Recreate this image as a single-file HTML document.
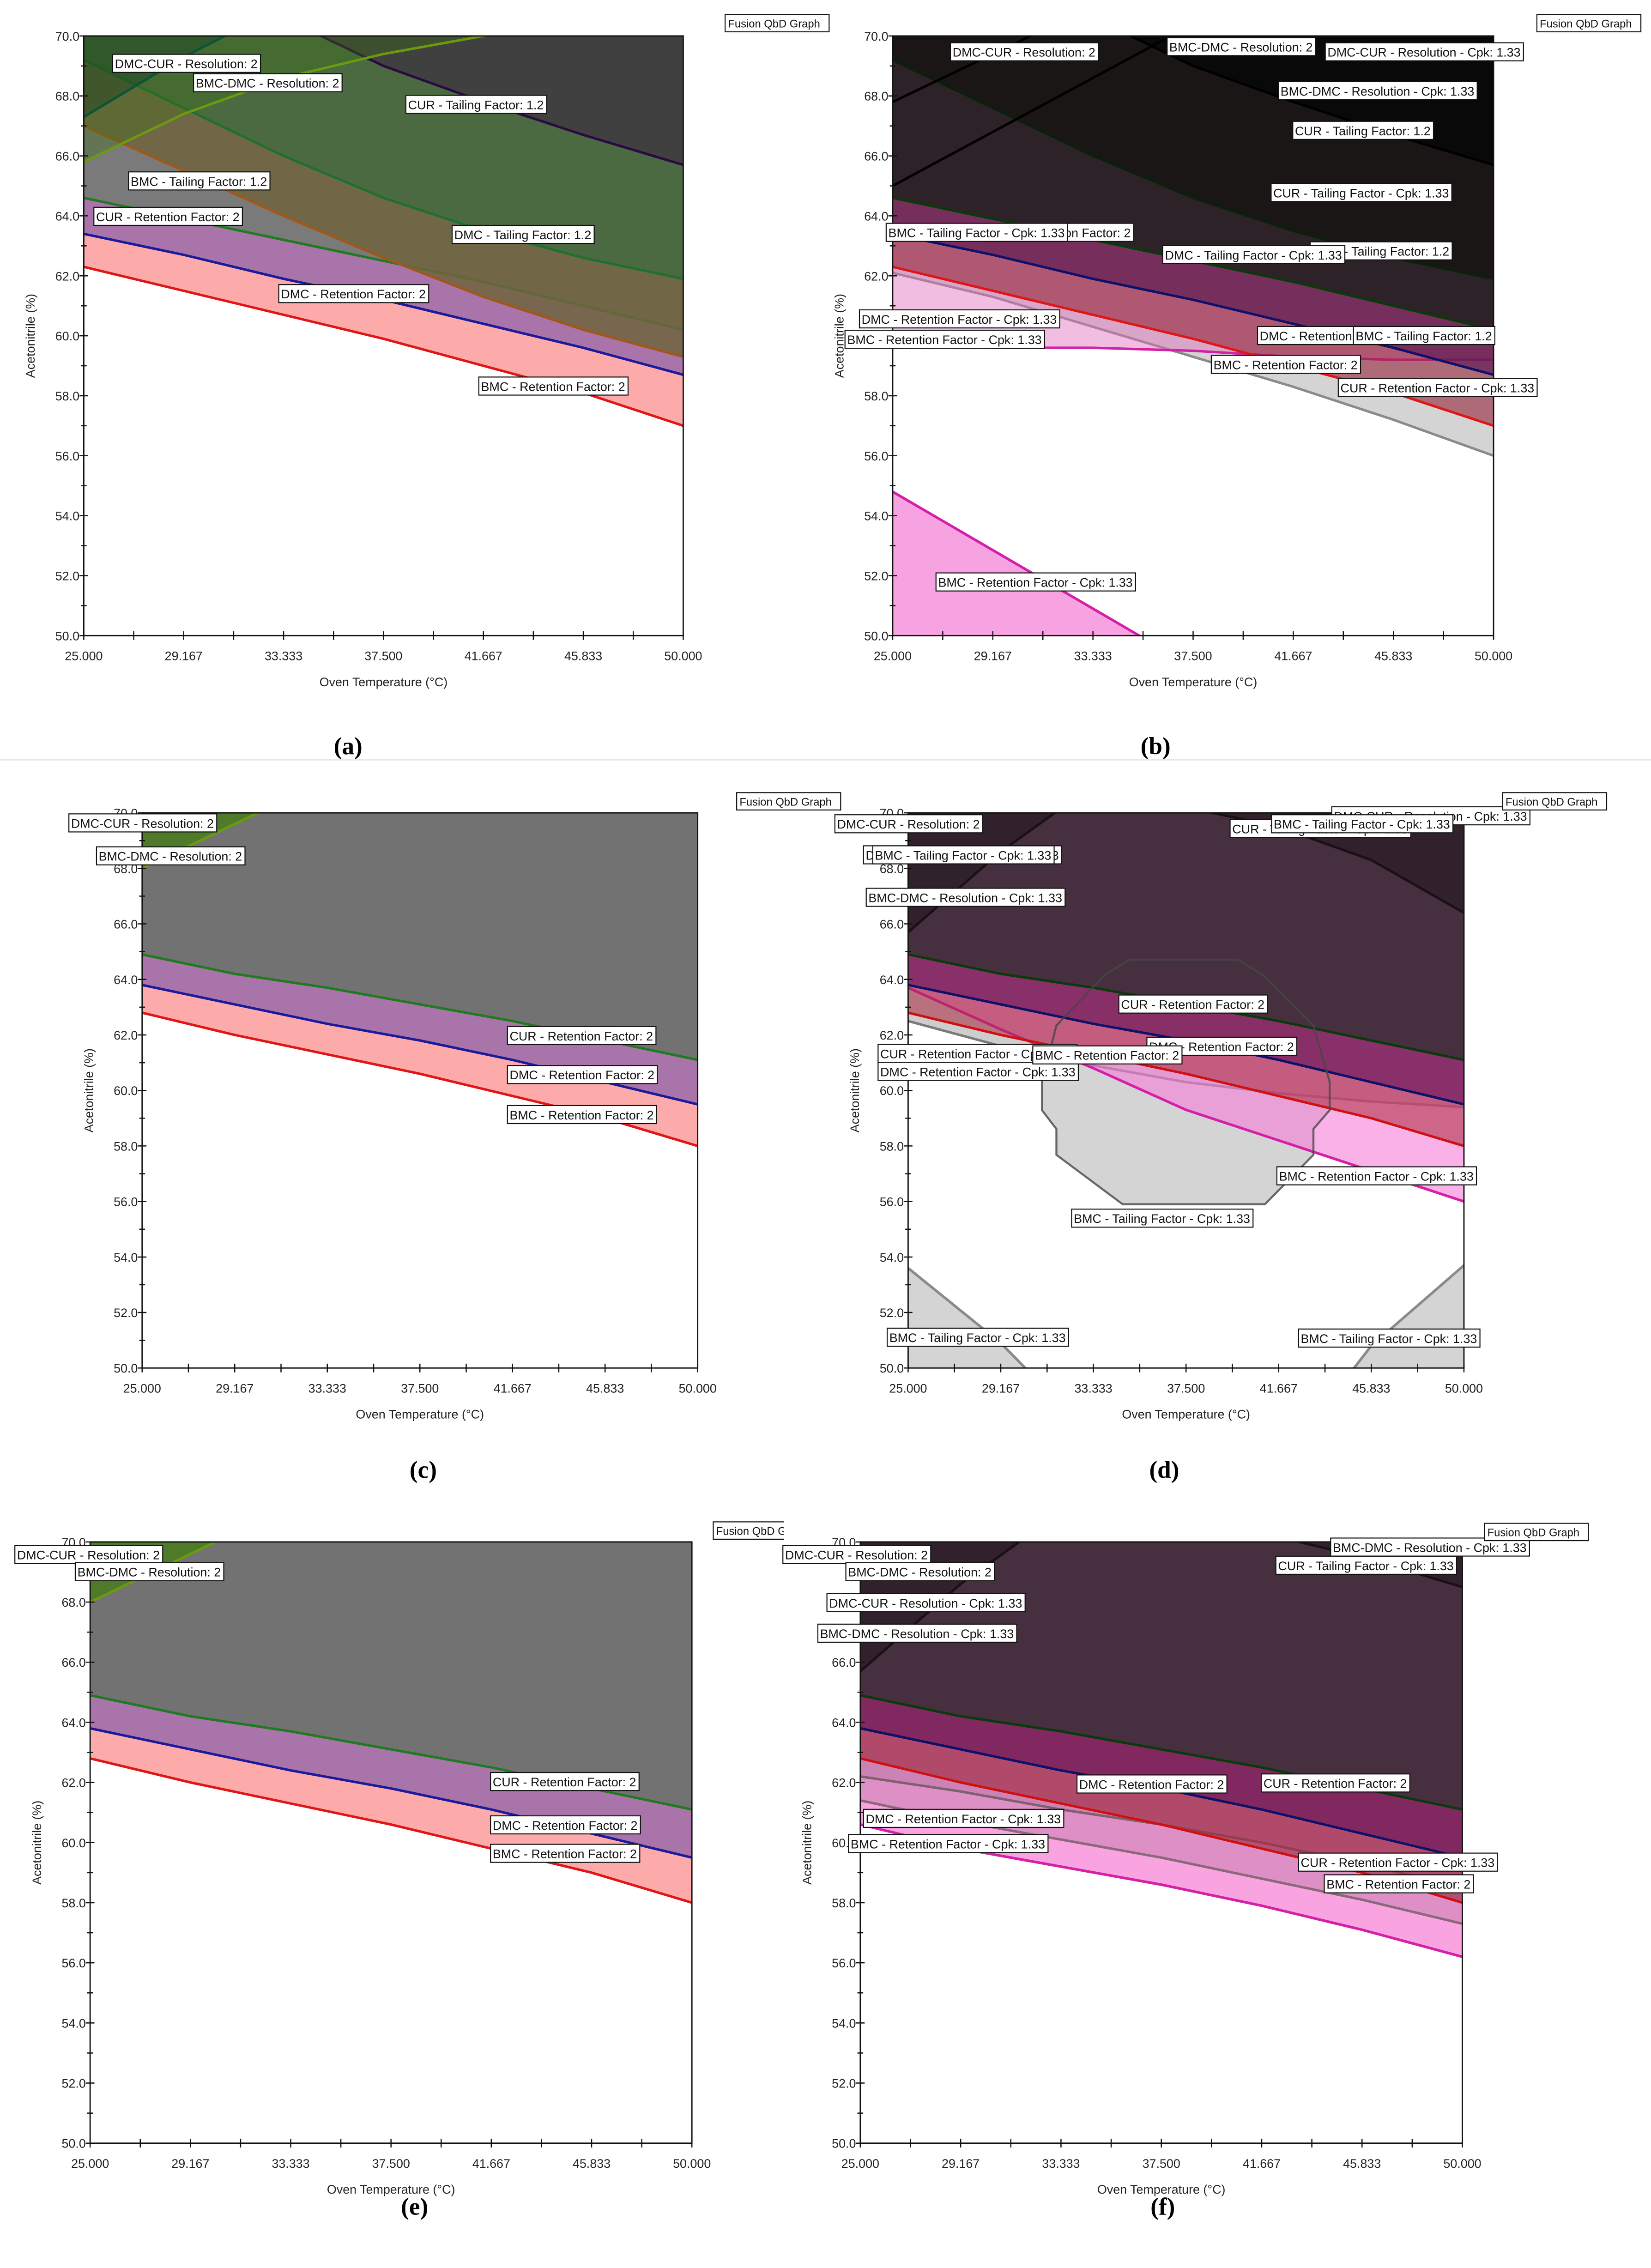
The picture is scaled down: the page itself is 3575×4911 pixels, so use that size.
<!DOCTYPE html>
<html><head><meta charset="utf-8">
<style>
html,body{margin:0;padding:0;background:#fff;}
svg{display:block;}
text{font-family:"Liberation Sans",sans-serif;}
</style></head>
<body>
<svg id="fig" xmlns="http://www.w3.org/2000/svg" width="3575" height="4911" viewBox="0 0 1143 1570" preserveAspectRatio="none">
<rect x="0" y="0" width="1143" height="1570" fill="#fff"/>
<line x1="0" y1="526" x2="1143" y2="526" stroke="#e4e4e4" stroke-width="0.8"/>
</svg>
<script>
const xTicks=[25,29.167,33.333,37.5,41.667,45.833,50];
const xTickLabels=["25.000","29.167","33.333","37.500","41.667","45.833","50.000"];
const yTicks=[50,52,54,56,58,60,62,64,66,68,70];
const yTickLabels=["50.0","52.0","54.0","56.0","58.0","60.0","62.0","64.0","66.0","68.0","70.0"];

/* panel (a) */
const aBmcRet=[62.3,61.5,60.7,59.9,59.0,58.1,57.0];
const aDmcRet=[63.4,62.7,61.9,61.2,60.4,59.6,58.7];
const aCurRet=[64.6,63.9,63.2,62.5,61.8,61.0,60.2];
const aBmcTail=[67.0,65.5,64.0,62.6,61.3,60.2,59.3];
const aDmcTail=[69.2,67.6,66.0,64.6,63.5,62.6,61.9];
const aCurTail=[74.0,72.3,70.6,69.0,67.8,66.7,65.7];
const aDmcCurRes=[67.3,69.3,71.0,72.5,74,75,76];
const aBmcDmcRes=[65.8,67.4,68.6,69.4,70.0,70.6,71.2];
/* panel (b) */
const bBmcCpkLow=[54.8,52.85,50.9,48.95,47.0,45.0,43.1];
const bGray=[62.1,61.3,60.3,59.3,58.3,57.2,56.0];
const bMag=[59.7,59.6,59.6,59.5,59.3,59.2,59.2];
const bRed=[62.3,61.5,60.7,59.9,59.0,58.1,57.0];
const bBlue=[63.4,62.7,61.9,61.2,60.4,59.6,58.7];
const bGreen=[64.6,63.9,63.2,62.5,61.8,61.0,60.2];
const bDmcTail=[69.2,67.6,66.0,64.6,63.5,62.6,61.9];
const bCurTail=[74.0,72.3,70.6,69.0,67.8,66.7,65.7];
const bResA=[65.0,66.8,68.6,70.4,72,74,76];
const bResB=[67.8,69.4,71.0,72.5,74,75,76];
/* panel (c) */
const cCurRet=[64.9,64.2,63.7,63.1,62.5,61.8,61.1];
const cDmcRet=[63.8,63.1,62.4,61.8,61.1,60.3,59.5];
const cBmcRet=[62.8,62.0,61.3,60.6,59.8,59.0,58.0];
const cRes=[68.0,69.6,71.2,72.8,74,75,76];
/* panel (d) */
const dTailLL=[53.6,50.9,47.5,44,40,36,32];
const dTailLR=[30,34,38,42,46.5,50.8,53.7];
const dGray=[62.5,61.6,60.9,60.3,59.9,59.6,59.4];
const dMag=[63.7,62.2,60.8,59.3,58.2,57.1,56.0];
const dRed=[62.8,62.0,61.3,60.6,59.8,59.0,58.0];
const dBlue=[63.8,63.1,62.4,61.8,61.1,60.3,59.5];
const dGreen=[64.9,64.2,63.7,63.1,62.5,61.8,61.1];
const dArcL=[65.7,68.6,71.0,73,75,76,77];
const dArcR=[75,73,71.2,70.2,69.5,68.3,66.4];
const dOctX=[34.96,39.85,40.93,43.23,43.96,43.96,43.23,43.23,41.05,34.65,31.67,31.67,31.02,31.02,31.67,33.85];
const dOctY=[64.71,64.71,64.17,62.34,60.31,59.29,58.61,57.68,55.90,55.90,57.68,58.61,59.29,60.31,62.34,64.17];
/* panel (e) */
const eCurRet=[64.9,64.2,63.7,63.1,62.5,61.8,61.1];
const eDmcRet=[63.8,63.1,62.4,61.8,61.1,60.3,59.5];
const eBmcRet=[62.8,62.0,61.3,60.6,59.8,59.0,58.0];
const eRes=[68.0,69.6,71.2,72.8,74,75,76];
/* panel (f) */
const fMag=[60.6,59.8,59.2,58.6,57.9,57.1,56.2];
const fGrayA=[61.4,60.7,60.1,59.5,58.8,58.1,57.3];
const fGrayB=[62.2,61.7,61.1,60.6,60.0,59.3,58.5];
const fRed=[62.8,62.0,61.3,60.6,59.8,59.0,58.0];
const fBlue=[63.8,63.1,62.4,61.8,61.1,60.3,59.5];
const fGreen=[64.9,64.2,63.7,63.1,62.5,61.8,61.1];
const fArcL=[65.7,68.6,71.0,73,75,76,77];
const fArcR=[78,76,74,72,70.3,69.5,68.5];

const NS="http://www.w3.org/2000/svg";
const svg=document.getElementById('fig');
function el(tag,attrs,parent){const e=document.createElementNS(NS,tag);for(const k in attrs)e.setAttribute(k,attrs[k]);(parent||svg).appendChild(e);return e;}

function drawPanel(p){
  const g=el('g',{});
  
  
  const sx=v=>p.x0+(v-25)/25*(p.x1-p.x0);
  const sy=v=>p.y1-(v-50)/20*(p.y1-p.y0);
  const cp=el('clipPath',{id:'clip-'+p.id},g);
  el('rect',{x:p.x0,y:p.y0,width:p.x1-p.x0,height:p.y1-p.y0},cp);
  const plot=el('g',{'clip-path':'url(#clip-'+p.id+')'},g);
  
  
  el('rect',{x:p.x0,y:p.y0,width:p.x1-p.x0,height:p.y1-p.y0,fill:'#fff'},plot);
  p.layers.forEach(L=>{
    if(L.poly){
      const pts=L.poly[0].map((x,i)=>sx(x)+','+sy(L.poly[1][i])).join(' ');
      const pg=el('polygon',{points:pts,fill:L.fill||'none',stroke:L.stroke||'none','stroke-width':L.sw||1},plot);
      
      
      return;
    }
    const pts=xTicks.map((x,i)=>[sx(x),sy(L.d[i])]);
    const edge=L.dir==='below'?sy(30):sy(90);
    if(L.fill){
      const s=pts.map(q=>q[0]+','+q[1]).join(' ')+' '+sx(50)+','+edge+' '+sx(25)+','+edge;
      const pg=el('polygon',{points:s,fill:L.fill},plot);
      
      
    }
    if(L.stroke){
      const pl=el('polyline',{points:pts.map(q=>q[0]+','+q[1]).join(' '),fill:'none',stroke:L.stroke,'stroke-width':L.sw||1.7,'stroke-linejoin':'round'},plot);
      
      
    }
  });
  const ax=el('rect',{x:p.x0,y:p.y0,width:p.x1-p.x0,height:p.y1-p.y0,fill:'none',stroke:'#111','stroke-width':0.9},g);
  
  
  for(let v=50;v<=70;v+=1){
    const major=(v%2===0);
    el('line',{x1:p.x0-(major?3:2),x2:p.x0+(major?3:2),y1:sy(v),y2:sy(v),stroke:'#111','stroke-width':0.8},g);
  }
  yTicks.forEach((v,i)=>{
    const t=el('text',{x:p.x0-3,y:sy(v)+3.2,'font-size':8.6,'text-anchor':'end',fill:'#222'},g);
    t.textContent=yTickLabels[i];
    
    
  });
  for(let k=0;k<=12;k++){
    const v=25+k*25/12;
    el('line',{x1:sx(v),x2:sx(v),y1:p.y1-3,y2:p.y1+3,stroke:'#111','stroke-width':0.8},g);
  }
  xTicks.forEach((v,i)=>{
    const t=el('text',{x:sx(v),y:p.y1+17,'font-size':8.6,'text-anchor':'middle',fill:'#222'},g);
    t.textContent=xTickLabels[i];
    
    
  });
  const xt=el('text',{x:(p.x0+p.x1)/2,y:p.y1+35,'font-size':8.6,'text-anchor':'middle',fill:'#222'},g);
  xt.textContent='Oven Temperature (°C)';
  
  
  const yx=p.x0-34, yy=(p.y0+p.y1)/2;
  const yt=el('text',{x:yx,y:yy,'font-size':8.6,'text-anchor':'middle',fill:'#222',transform:'rotate(-90 '+yx+' '+yy+')'},g);
  yt.textContent='Acetonitrile (%)';
  
  
  p.labels.forEach(l=>{
    const lg=el('g',{},g);
    
    
    const r=el('rect',{x:l[1],y:l[2],width:10,height:12.5,fill:'#fff',stroke:'#111','stroke-width':0.7},lg);
    const t=el('text',{x:l[1]+1.5,y:l[2]+9.6,'font-size':8.6,fill:'#111'},lg);
    t.textContent=l[0];
    r.setAttribute('width',t.getComputedTextLength()+3.5);
  });
  const c=el('text',{x:p.cx,y:p.cy,'font-size':17,'font-weight':'bold','text-anchor':'middle',fill:'#000',style:'font-family:"Liberation Serif",serif'},g);
  c.textContent='('+p.id+')';
  
  
}

function fusion(x,y,w){
  const cp=el('clipPath',{id:'fc'+x});
  el('rect',{x:x-1,y:y-1,width:w+2,height:16},cp);
  const g=el('g',{'clip-path':'url(#fc'+x+')'});
  
  
  el('rect',{x:x,y:y,width:72,height:12,fill:'#fff',stroke:'#111','stroke-width':0.7},g);
  const t=el('text',{x:x+2,y:y+9,'font-size':7.6,fill:'#111'},g);
  t.textContent='Fusion QbD Graph';
}

const panels=[
 {id:'a',x0:58,x1:473,y0:24.9,y1:440,cx:241,cy:522,
  layers:[
   {name:'bmc-retention',d:aBmcRet,dir:'above',fill:'#fdaaaa',stroke:'#e01515'},
   {name:'dmc-retention',d:aDmcRet,dir:'above',fill:'#a874aa',stroke:'#1a1a9a'},
   {name:'cur-retention',d:aCurRet,dir:'above',fill:'#7a7a7a',stroke:'#207a20'},
   {name:'bmc-tailing',d:aBmcTail,dir:'above',fill:'rgba(112,100,62,0.85)',stroke:'#a0581a'},
   {name:'dmc-tailing',d:aDmcTail,dir:'above',fill:'#4b6a42',stroke:'#1e7030'},
   {name:'cur-tailing',d:aCurTail,dir:'above',fill:'#404040',stroke:'#2a0a40'},
   {name:'bmc-dmc-resolution',d:aBmcDmcRes,dir:'above',fill:'rgba(60,110,20,0.35)',stroke:'#6a9a10'},
   {name:'dmc-cur-resolution',d:aDmcCurRes,dir:'above',fill:'rgba(20,60,30,0.4)',stroke:'#0a5535'}],
  labels:[['DMC-CUR - Resolution: 2',78,37.6],['BMC-DMC - Resolution: 2',134,51],['CUR - Tailing Factor: 1.2',281,66],
   ['BMC - Tailing Factor: 1.2',89,119],['CUR - Retention Factor: 2',65,143.5],['DMC - Tailing Factor: 1.2',313,156],
   ['DMC - Retention Factor: 2',193,197],['BMC - Retention Factor: 2',331.5,261]]},
 {id:'b',x0:618,x1:1034,y0:24.9,y1:440,cx:800,cy:522,
  layers:[
   {name:'bmc-retention-cpk-low',d:bBmcCpkLow,dir:'below',fill:'#f7a3e2',stroke:'#d420a8',sw:1.8},
   {name:'cur-retention-cpk',d:bGray,dir:'above',fill:'#d4d4d4',stroke:'#8a8a8a'},
   {name:'bmc-retention-cpk',d:bMag,dir:'above',fill:'rgba(225,110,190,0.45)',stroke:'#d420a8'},
   {name:'bmc-retention',d:bRed,dir:'above',fill:'rgba(150,40,60,0.62)',stroke:'#e01515'},
   {name:'dmc-retention',d:bBlue,dir:'above',fill:'rgba(80,20,80,0.6)',stroke:'#10106a'},
   {name:'cur-retention',d:bGreen,dir:'above',fill:'#2e2229',stroke:'#0a3a0a'},
   {name:'dmc-tailing',d:bDmcTail,dir:'above',fill:'#1a1616',stroke:'#0a200a'},
   {name:'cur-tailing',d:bCurTail,dir:'above',fill:'#090909',stroke:'#000'},
   {name:'res-a',d:bResA,dir:'above',stroke:'#000'},
   {name:'res-b',d:bResB,dir:'above',stroke:'#000'}],
  labels:[['DMC-CUR - Resolution: 2',658,29.6],['BMC-DMC - Resolution: 2',808,26],['DMC-CUR - Resolution - Cpk: 1.33',917.5,29.6],
   ['BMC-DMC - Resolution - Cpk: 1.33',885,56.5],['CUR - Tailing Factor: 1.2',895,84],['CUR - Tailing Factor - Cpk: 1.33',880,127],
   ['CUR - Retention Factor: 2',682,154.6],['BMC - Tailing Factor - Cpk: 1.33',613.5,154.6],['DMC - Tailing Factor: 1.2',907,167.4],
   ['DMC - Tailing Factor - Cpk: 1.33',805,170],['DMC - Retention Factor - Cpk: 1.33',595,214.5],['BMC - Retention Factor - Cpk: 1.33',585,228.6],
   ['DMC - Retention Factor: 2',870.6,226],['BMC - Tailing Factor: 1.2',937,226],['BMC - Retention Factor: 2',838.6,246],
   ['CUR - Retention Factor - Cpk: 1.33',926.5,262],['BMC - Retention Factor - Cpk: 1.33',648,396.6]]},
 {id:'c',x0:98.4,x1:483,y0:562.7,y1:947,cx:293,cy:1023,
  layers:[
   {name:'bmc-retention',d:cBmcRet,dir:'above',fill:'#fdaaaa',stroke:'#e01515'},
   {name:'dmc-retention',d:cDmcRet,dir:'above',fill:'#a874aa',stroke:'#1a1a9a'},
   {name:'cur-retention',d:cCurRet,dir:'above',fill:'#727272',stroke:'#207a20'},
   {name:'resolution',d:cRes,dir:'above',fill:'#4e7a2a',stroke:'#6a9a10'}],
  labels:[['DMC-CUR - Resolution: 2',47.7,563.4],['BMC-DMC - Resolution: 2',66.8,586.2],['CUR - Retention Factor: 2',351.3,710.6],
   ['DMC - Retention Factor: 2',351.3,737.6],['BMC - Retention Factor: 2',351.3,765.3]]},
 {id:'d',x0:628.7,x1:1013.5,y0:562.7,y1:947,cx:806,cy:1023,
  layers:[
   {name:'bmc-tailing-cpk-ll',d:dTailLL,dir:'below',fill:'#d4d4d4',stroke:'#8a8a8a',sw:1.8},
   {name:'bmc-tailing-cpk-lr',d:dTailLR,dir:'below',fill:'#d4d4d4',stroke:'#8a8a8a',sw:1.8},
   {name:'bmc-tailing-cpk-center',poly:[dOctX,dOctY],fill:'#d4d4d4'},
   {name:'cur-retention-cpk',d:dGray,dir:'above',fill:'rgba(200,200,200,0.9)',stroke:'#7a7a7a'},
   {name:'bmc-retention-cpk',d:dMag,dir:'above',fill:'rgba(245,125,215,0.6)',stroke:'#d420a8',sw:1.8},
   {name:'bmc-retention',d:dRed,dir:'above',fill:'rgba(170,40,60,0.55)',stroke:'#d01010'},
   {name:'dmc-retention',d:dBlue,dir:'above',fill:'rgba(100,20,90,0.62)',stroke:'#10106a'},
   {name:'cur-retention',d:dGreen,dir:'above',fill:'#463040',stroke:'#0a3a0a'},
   {name:'bmc-tailing-cpk-outline',poly:[dOctX,dOctY],fill:'none',stroke:'rgba(70,70,70,0.8)',sw:1.4},
   {name:'arc-left',d:dArcL,dir:'above',fill:'rgba(0,0,0,0.3)',stroke:'#1a1015'},
   {name:'arc-right',d:dArcR,dir:'above',fill:'rgba(0,0,0,0.3)',stroke:'#1a1015'}],
  labels:[['DMC-CUR - Resolution - Cpk: 1.33',922,558.5],['DMC-CUR - Resolution: 2',578,564],['CUR - Tailing Factor - Cpk: 1.33',851.6,567.3],
   ['BMC - Tailing Factor - Cpk: 1.33',880.3,564],['DMC-CUR - Resolution - Cpk: 1.33',597.8,585.5],['BMC - Tailing Factor - Cpk: 1.33',604.2,585.5],
   ['BMC-DMC - Resolution - Cpk: 1.33',599.7,614.9],['CUR - Retention Factor: 2',774.6,688.8],['DMC - Retention Factor: 2',794,718],
   ['CUR - Retention Factor - Cpk: 1.33',607.9,723],['DMC - Retention Factor - Cpk: 1.33',607.9,735.4],['BMC - Retention Factor: 2',715,724],
   ['BMC - Retention Factor - Cpk: 1.33',884,807.7],['BMC - Tailing Factor - Cpk: 1.33',741.9,837],['BMC - Tailing Factor - Cpk: 1.33',614.2,919.4],
   ['BMC - Tailing Factor - Cpk: 1.33',899,920]]},
 {id:'e',x0:62.4,x1:479,y0:1067.4,y1:1483.6,cx:287,cy:1533,
  layers:[
   {name:'bmc-retention',d:eBmcRet,dir:'above',fill:'#fdaaaa',stroke:'#e01515'},
   {name:'dmc-retention',d:eDmcRet,dir:'above',fill:'#a874aa',stroke:'#1a1a9a'},
   {name:'cur-retention',d:eCurRet,dir:'above',fill:'#727272',stroke:'#207a20'},
   {name:'resolution',d:eRes,dir:'above',fill:'#4e7a2a',stroke:'#6a9a10'}],
  labels:[['DMC-CUR - Resolution: 2',10.3,1069.8],['BMC-DMC - Resolution: 2',52.1,1081.7],['CUR - Retention Factor: 2',339.6,1227],
   ['DMC - Retention Factor: 2',339.6,1257],['BMC - Retention Factor: 2',339.6,1276.7]]},
 {id:'f',x0:595.6,x1:1012.4,y0:1067.4,y1:1483.6,cx:805,cy:1533,
  layers:[
   {name:'bmc-retention-cpk',d:fMag,dir:'above',fill:'#f9a3e0',stroke:'#d420a8',sw:1.8},
   {name:'dmc-retention-cpk',d:fGrayA,dir:'above',fill:'rgba(160,100,140,0.3)',stroke:'#8a6a7a'},
   {name:'cur-retention-cpk',d:fGrayB,dir:'above',fill:'rgba(150,90,130,0.25)',stroke:'#806070'},
   {name:'bmc-retention',d:fRed,dir:'above',fill:'rgba(160,40,60,0.62)',stroke:'#d01010'},
   {name:'dmc-retention',d:fBlue,dir:'above',fill:'rgba(100,20,90,0.62)',stroke:'#10106a'},
   {name:'cur-retention',d:fGreen,dir:'above',fill:'#463040',stroke:'#0a3a0a'},
   {name:'arc-left',d:fArcL,dir:'above',fill:'rgba(0,0,0,0.3)',stroke:'#1a1015'},
   {name:'arc-right',d:fArcR,dir:'above',fill:'rgba(0,0,0,0.3)',stroke:'#1a1015'}],
  labels:[['DMC-CUR - Resolution: 2',542,1069.8],['BMC-DMC - Resolution: 2',585.6,1081.7],['DMC-CUR - Resolution - Cpk: 1.33',572.5,1103.2],
   ['BMC-DMC - Resolution - Cpk: 1.33',566.2,1124.3],['BMC-DMC - Resolution - Cpk: 1.33',921.2,1064.7],['CUR - Tailing Factor - Cpk: 1.33',883.3,1077.3],
   ['DMC - Retention Factor: 2',745.6,1228.7],['CUR - Retention Factor: 2',873.2,1228],['DMC - Retention Factor - Cpk: 1.33',597.8,1252.5],
   ['BMC - Retention Factor - Cpk: 1.33',587.4,1269.9],['CUR - Retention Factor - Cpk: 1.33',899,1282.8],['BMC - Retention Factor: 2',916.8,1297.8]]}
];
panels.forEach(drawPanel);
fusion(502,10,72);
fusion(1064,10,72);
fusion(510,548.7,72);
fusion(1040.3,548.7,72);
fusion(493.8,1053.5,48);
fusion(1027.7,1054.5,72);
</script>
</body></html>
